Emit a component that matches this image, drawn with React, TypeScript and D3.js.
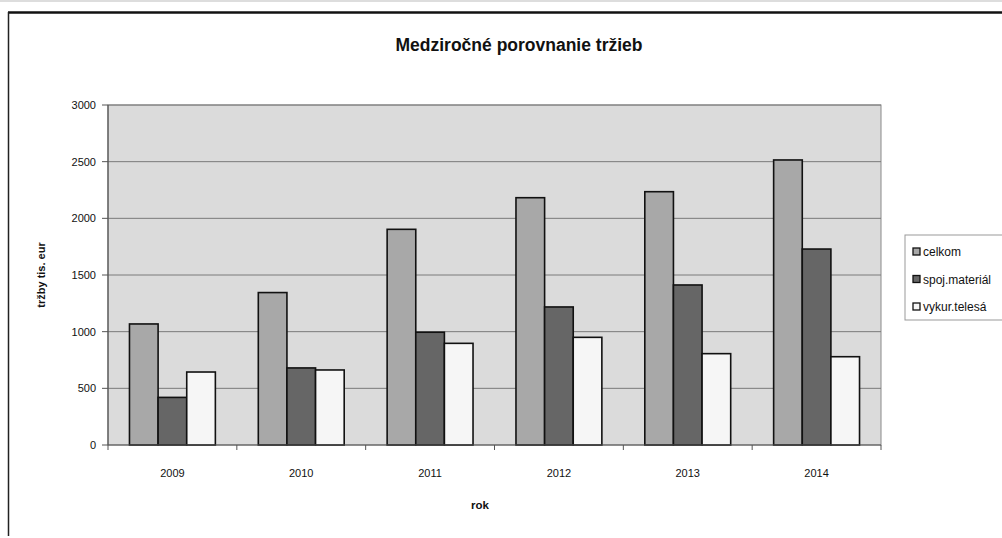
import React from "react";
import * as d3 from "d3";

const years = ["2009", "2010", "2011", "2012", "2013", "2014"];
const seriesNames = ["celkom", "spoj.materiál", "vykur.telesá"];
const celkom = [1068, 1345, 1903, 2182, 2235, 2515];
const spojMaterial = [420, 680, 995, 1218, 1412, 1729];
const vykurTelesa = [644, 662, 897, 950, 806, 779];
const yTicks = [0, 500, 1000, 1500, 2000, 2500, 3000];
const seriesColors = ["#a8a8a8", "#666666", "#f6f6f6"];

const W = 1002;
const H = 538;
const plot = { left: 108, right: 881, top: 105, bottom: 445 };
const font = "Arial, 'Liberation Sans', sans-serif";

export default function App() {
  const values = [celkom, spojMaterial, vykurTelesa];

  const x = d3.scaleBand<string>()
    .domain(years)
    .range([plot.left, plot.right])
    .paddingInner(0)
    .paddingOuter(0);

  const bandW = x.bandwidth();
  const barW = bandW / 4.5;

  const y = d3.scaleLinear()
    .domain([0, 3000])
    .range([plot.bottom, plot.top]);

  return (
    <svg width={W} height={H} style={{ position: "absolute", left: 0, top: 0, background: "#fff" }}>
      {/* outer frame */}
      <line x1={0} x2={W} y1={1} y2={1} stroke="#bbb" strokeWidth={1} />
      <line x1={8} x2={W} y1={12.5} y2={12.5} stroke="#111" strokeWidth={2.5} />
      <line x1={8.5} x2={8.5} y1={12} y2={536} stroke="#222" strokeWidth={1.5} />

      <text x={519} y={51} textAnchor="middle" fontFamily={font} fontWeight="bold" fontSize={17.5} fill="#111">
        Medziročné porovnanie tržieb
      </text>

      {/* plot background */}
      <rect x={plot.left} y={plot.top} width={plot.right - plot.left} height={plot.bottom - plot.top}
        fill="#dbdbdb" stroke="#8a8a8a" strokeWidth={1} />

      {yTicks.map(t => (
        <g key={t}>
          {t > 0 && (
            <line x1={plot.left} x2={plot.right} y1={y(t)} y2={y(t)} stroke="#7a7a7a" strokeWidth={1} />
          )}
          <line x1={plot.left - 6} x2={plot.left} y1={y(t)} y2={y(t)} stroke="#555" />
          <text x={plot.left - 12} y={y(t)} dy="0.35em" textAnchor="end" fontFamily={font} fontSize={11} fill="#111">
            {t}
          </text>
        </g>
      ))}

      {/* bars */}
      {values.map((vals, si) => (
        <g key={si}>
          {years.map((yr, i) => (
            <rect key={yr}
              x={(x(yr) as number) + barW * 0.75 + si * barW}
              y={y(vals[i])}
              width={barW}
              height={y(0) - y(vals[i])}
              fill={seriesColors[si]}
              stroke="#111"
              strokeWidth={1.6} />
          ))}
        </g>
      ))}

      {/* axes */}
      <line x1={plot.left} x2={plot.left} y1={plot.top} y2={plot.bottom} stroke="#555" strokeWidth={1.2} />
      <line x1={plot.left} x2={plot.right} y1={plot.bottom} y2={plot.bottom} stroke="#555" strokeWidth={1.2} />
      {years.map(yr => (
        <g key={yr}>
          <line x1={x(yr) as number} x2={x(yr) as number} y1={plot.bottom} y2={plot.bottom + 5} stroke="#555" />
          <text x={(x(yr) as number) + bandW / 2} y={477} textAnchor="middle" fontFamily={font} fontSize={11} fill="#111">
            {yr}
          </text>
        </g>
      ))}
      <line x1={plot.right} x2={plot.right} y1={plot.bottom} y2={plot.bottom + 5} stroke="#555" />

      <text x={480} y={509} textAnchor="middle" fontFamily={font} fontWeight="bold" fontSize={11.5} fill="#111">
        rok
      </text>

      <text transform={`translate(45, ${(plot.top + plot.bottom) / 2}) rotate(-90)`} textAnchor="middle"
        fontFamily={font} fontWeight="bold" fontSize={11} fill="#111">
        tržby tis. eur
      </text>

      {/* legend */}
      <rect x={905} y={235} width={110} height={85} fill="#fff" stroke="#999" strokeWidth={1} />
      {seriesNames.map((name, i) => (
        <g key={name} transform={`translate(913, ${252 + i * 27.5})`}>
          <rect x={0} y={-4} width={7} height={7} fill={seriesColors[i]} stroke="#111" strokeWidth={1.3} />
          <text x={10} y={0} dy="0.35em" fontFamily={font} fontSize={12} fill="#111">{name}</text>
        </g>
      ))}
    </svg>
  );
}
